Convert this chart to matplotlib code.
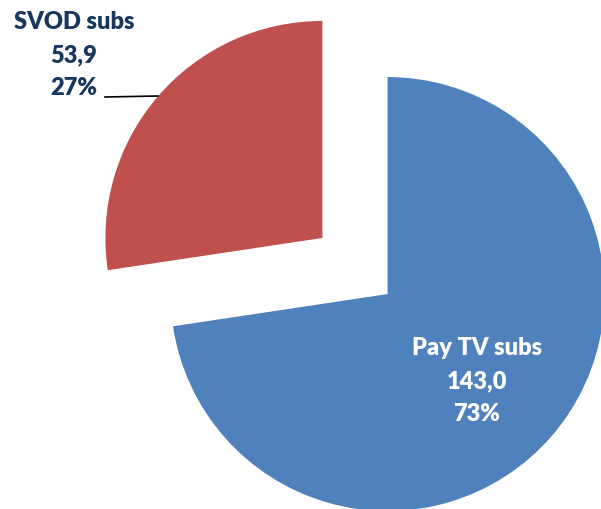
import matplotlib.pyplot as plt

# Abonnements (millions)
labels = ['Pay TV subs', 'SVOD subs']
values = [143.0, 53.9]
colors = ['#4F81BD', '#C0504D']

total = sum(values)
shares = [round(v / total * 100) for v in values]

fig = plt.figure(figsize=(6.01, 5.10), dpi=100)
ax = fig.add_axes([0, 0, 1, 1])

# explode est en unités de données (rayon = 217)
ax.pie(values, colors=colors, startangle=90, counterclock=False,
       explode=[43, 43], radius=217, center=(355, 243),
       wedgeprops=dict(linewidth=0))

ax.set_xlim(0, 601)
ax.set_ylim(0, 510)
ax.set_aspect('equal')
ax.axis('off')

font = dict(family='Lato', weight='heavy', size=17, ha='center', va='center',
            multialignment='center', linespacing=1.6)

# étiquette à l'intérieur de la part Pay TV
ax.text(477, 129, f"{labels[0]}\n{values[0]:.1f}".replace('.', ',') + f"\n{shares[0]}%",
        color='white', **font)

# étiquette SVOD à l'extérieur avec trait de rappel
ax.text(74, 455, f"{labels[1]}\n{values[1]:.1f}".replace('.', ',') + f"\n{shares[1]}%",
        color='#17375E', **font)
ax.plot([105, 158], [412, 413], color='black', linewidth=1.2)

fig.savefig('out.png', dpi=100)
